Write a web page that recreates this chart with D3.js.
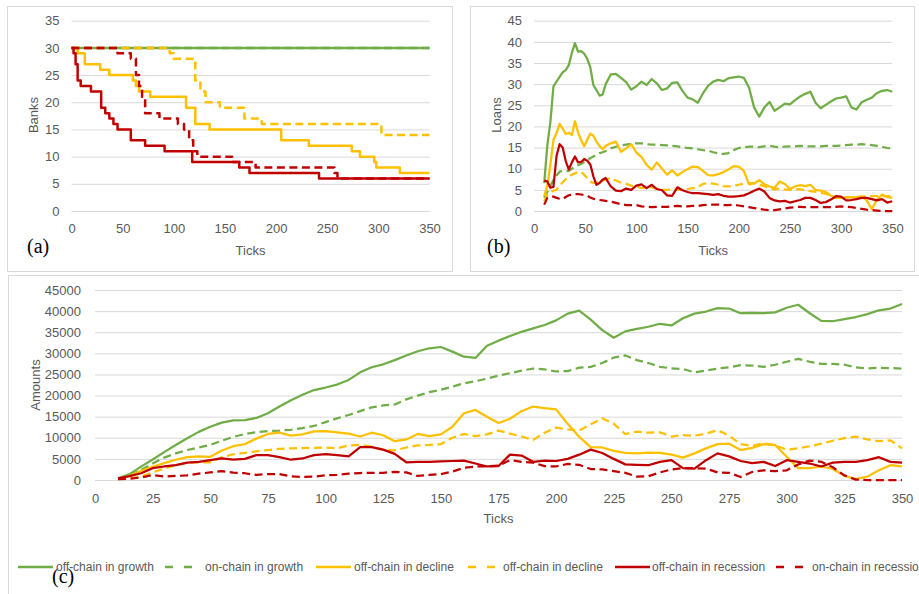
<!DOCTYPE html>
<html>
<head>
<meta charset="utf-8">
<script src="https://cdn.jsdelivr.net/npm/d3@7"></script>
<style>
  body { margin: 0; background: #fff; }
  svg text { font-family: "Liberation Sans", Arial, sans-serif; fill: #595959; }
</style>
</head>
<body>
<div id="chart"></div>
<script>

// ---- (a) Banks: step change points (tick, value)
var banksOffGrowthT = [0, 350]
var banksOffGrowthV = [30, 30]
var banksOnGrowthT = [0, 350]
var banksOnGrowthV = [30, 30]
var banksOffDeclineT = [0, 6, 13, 28, 37, 60, 63, 66, 77, 112, 121, 135, 205, 232, 274, 282, 296, 298, 321, 350]
var banksOffDeclineV = [30, 29, 27, 26, 25, 24, 23, 22, 21, 19, 16, 15, 13, 12, 11, 10, 9, 8, 7, 7]
var banksOnDeclineT = [0, 96, 100, 121, 126, 131, 145, 169, 186, 303, 350]
var banksOnDeclineV = [30, 29, 28, 24, 22, 20, 19, 17, 16, 14, 14]
var banksOffRecessionT = [0, 2, 4, 6, 9, 19, 29, 33, 37, 41, 45, 58, 72, 91, 118, 164, 174, 242, 350]
var banksOffRecessionV = [30, 29, 27, 24, 23, 22, 19, 18, 17, 16, 15, 13, 12, 11, 9, 8, 7, 6, 6]
var banksOnRecessionT = [0, 45, 58, 63, 66, 69, 72, 86, 104, 110, 115, 119, 123, 157, 180, 257, 260, 350]
var banksOnRecessionV = [30, 29, 28, 25, 23, 21, 18, 17, 16, 15, 13, 11, 10, 9, 8, 7, 6, 6]

// ---- (b) Loans
var loanTicks = [10, 13, 16, 19, 22, 25, 28, 31, 34, 37, 40, 43, 46, 49, 52, 55, 58, 61, 64, 67, 70,
  75, 80, 85, 90, 95, 100, 105, 110, 115, 120, 125, 130, 135, 140, 145, 150, 155, 160, 165, 170,
  175, 180, 185, 190, 195, 200, 205, 210, 215, 220, 225, 230, 235, 240, 245, 250, 255, 260, 265,
  270, 275, 280, 285, 290, 295, 300, 305, 310, 315, 320, 325, 330, 335, 340, 345, 350]
var loanOffGrowth = [6.6, 15.5, 21, 29.5, 30.6, 31.7, 32.8, 33.3, 34.5, 37.4, 39.7, 37.7, 37.8, 37.2, 36, 34, 29.8, 28.6, 27.3, 27.5, 30,
  32.3, 32.4, 31.5, 30.5, 28.7, 29.5, 30.6, 29.8, 31.2, 30.2, 28.6, 29, 30.3, 30.4, 28.4, 26.8, 26.4, 25.6, 27.8, 29.6,
  30.6, 31, 30.7, 31.4, 31.6, 31.8, 31.5, 29.2, 24.5, 22.3, 24.5, 25.8, 23.7, 24.5, 25.4, 25.2, 26.2, 27.1, 27.7,
  28.2, 25.6, 24.3, 25.1, 25.9, 26.6, 26.8, 27.1, 24.5, 24, 25.7, 26.3, 26.8, 27.9, 28.4, 28.6, 28.2]
var loanOnGrowth = [3.1, 4.5, 6, 7.3, 8.4, 9.3, 9.5, 9.4, 9.5, 10, 10.5, 10.8, 11.1, 11.6, 12, 12.5, 12.9, 13.3, 13.7, 13.9, 14.2,
  14.8, 15.2, 15.5, 15.7, 15.9, 16, 16, 15.8, 15.7, 15.7, 15.6, 15.5, 15.4, 15.3, 15.1, 14.9, 14.8, 14.6, 14.4, 14.3,
  13.9, 13.6, 13.5, 13.7, 14.4, 14.9, 15.1, 15.2, 15.2, 15.1, 15.3, 15.4, 15.2, 15.1, 15.2, 15.3, 15.3, 15.4, 15.3,
  15.3, 15.3, 15.3, 15.4, 15.4, 15.4, 15.5, 15.6, 15.7, 15.7, 15.8, 15.7, 15.6, 15.4, 15.2, 14.9, 14.7]
var loanOffDecline = [3.5, 6, 11, 16.8, 18.4, 20.6, 19.5, 18.2, 18.5, 18, 21.2, 18.6, 16.8, 15.3, 16.8, 18.3, 17.8, 16.4, 15.4, 14.6, 15.4,
  16, 16.4, 14, 14.8, 15.8, 13.8, 12.8, 10.9, 9.8, 11.5, 10, 8.6, 9.6, 8.4, 9.2, 9.9, 10.5, 10.4, 9.5, 8.5,
  8.4, 8.7, 9.2, 9.8, 10.6, 10.5, 9.5, 6.3, 6.5, 7.3, 6.3, 5.8, 5.5, 7, 6.4, 5.2, 5.8, 6.1, 5.9,
  6.2, 5, 4.8, 4.5, 3.6, 3.1, 3.1, 3.2, 3.3, 3.2, 3.4, 2.5, 0.4, 2.7, 3.9, 3.3, 3.1]
var loanOnDecline = [2.3, 3.9, 4.4, 4.8, 5, 6, 6.8, 7.5, 8.2, 8.6, 8.9, 9.2, 9.2, 8.6, 7.8, 7, 6.6, 6.8, 7, 7.2, 7.4,
  7.8, 7.2, 6.7, 6.4, 6, 5.8, 5.4, 5.6, 5.6, 5.3, 5, 5, 5.1, 5, 5, 5.2, 5.4, 5.6, 6.4, 6.6,
  6.5, 6.2, 5.9, 5.8, 5.9, 6.2, 6.5, 6.6, 6.6, 6.2, 5.9, 5.3, 5.1, 5.3, 5.1, 5, 5.2, 5.1, 5,
  4.7, 4.5, 4.3, 4.1, 3.6, 3.3, 3.2, 3.2, 3.3, 3.3, 3.4, 3.5, 3.5, 3.5, 3.5, 3.5, 3.5]
var loanOffRecession = [7.2, 7, 5.5, 5.7, 13, 15.8, 15, 11.8, 9.8, 11.5, 12.9, 11.5, 11.6, 12.3, 11.9, 11, 8.2, 6.2, 6.6, 7.4, 7.8,
  5.8, 4.8, 4.7, 5.3, 5, 6, 6.3, 5.4, 6.2, 5.2, 4.9, 3.7, 3.6, 5.6, 4.9, 4.5, 4.2, 4.2, 4.1, 4,
  3.8, 4, 3.6, 3.4, 3.4, 3.5, 3.7, 4.2, 4.8, 5.3, 4.6, 3.1, 2.5, 2.3, 2.4, 2, 2.3, 2.6, 3.1,
  3.1, 2.6, 1.9, 2.1, 2.7, 3.5, 3.4, 2.5, 2.6, 2.8, 3.1, 3.1, 2.8, 2.5, 2.8, 2, 2.3]
var loanOnRecession = [1.5, 3.1, 3.4, 3.4, 3.1, 2.9, 2.8, 3.3, 3.7, 3.9, 4, 4, 3.9, 3.8, 3.6, 3.2, 2.9, 2.7, 2.6, 2.5, 2.4,
  2.2, 1.9, 1.6, 1.4, 1.4, 1.4, 1.1, 1, 0.9, 1, 1, 1, 1.1, 1.2, 1.1, 1.1, 1.2, 1.2, 1.4, 1.5,
  1.5, 1.5, 1.4, 1.4, 1.5, 1.3, 1.1, 0.9, 0.7, 0.5, 0.3, 0.2, 0.2, 0.4, 0.6, 0.8, 0.9, 1, 0.9,
  0.9, 0.9, 0.9, 0.9, 0.9, 1, 1.1, 1, 0.9, 0.7, 0.5, 0.3, 0.2, 0.1, 0, 0, 0]

// ---- (c) Amounts
var amtTicks = [10, 15, 20, 25, 30, 35, 40, 45, 50, 55, 60, 65, 70, 75, 80, 85, 90, 95, 100, 105, 110, 115, 120,
  125, 130, 135, 140, 145, 150, 155, 160, 165, 170, 175, 180, 185, 190, 195, 200, 205, 210, 215, 220, 225,
  230, 235, 240, 245, 250, 255, 260, 265, 270, 275, 280, 285, 290, 295, 300, 305, 310, 315, 320, 325, 330,
  335, 340, 345, 350]
var amtOffGrowth = [400, 1400, 3160, 4850, 6600, 8300, 9900, 11400, 12600, 13600, 14100, 14200, 14700, 15800, 17400, 18900, 20200, 21300, 21900, 22600, 23700, 25500, 26700,
  27400, 28400, 29500, 30500, 31200, 31500, 30400, 29200, 28900, 31800, 33000, 34100, 35100, 35900, 36700, 37800, 39400, 40100, 38000, 35500, 33700,
  35200, 35800, 36300, 37000, 36600, 38300, 39400, 39900, 40700, 40600, 39500, 39600, 39500, 39700, 40800, 41500, 39500, 37700, 37600, 38100, 38600,
  39300, 40200, 40600, 41700]
var amtOnGrowth = [400, 1000, 2400, 3900, 5300, 6300, 7100, 7700, 8300, 9300, 10200, 10900, 11300, 11600, 11700, 11900, 12300, 12800, 13700, 14600, 15400, 16300, 17200,
  17650, 17900, 19100, 20000, 20800, 21400, 22100, 22900, 23400, 24000, 24700, 25300, 25900, 26400, 26200, 25700, 25800, 26600, 26800, 27700, 29000,
  29500, 28400, 27700, 26800, 26450, 26300, 25500, 25900, 26400, 26700, 27200, 27100, 26800, 27300, 28000, 28700, 28000, 27500, 27500, 27300, 26700,
  26450, 26600, 26500, 26400]
var amtOffDecline = [200, 1000, 2200, 3100, 4000, 4800, 5400, 5600, 5500, 7000, 8000, 8500, 9800, 10900, 11200, 10500, 10800, 11500, 11600, 11300, 11000, 10300, 11200,
  10600, 9200, 9600, 10900, 10400, 10800, 12600, 15800, 16600, 15000, 13500, 14500, 16300, 17400, 17000, 16700, 13300, 10200, 7800, 7700, 6900,
  6400, 6300, 6500, 6400, 6000, 5300, 6300, 7500, 8500, 8600, 7100, 7600, 8500, 8300, 5500, 2800, 2800, 3200, 2600, 1000, 200,
  800, 2300, 3500, 3200]
var amtOnDecline = [200, 400, 800, 1800, 2700, 3500, 4100, 4200, 4200, 5400, 6100, 6400, 6800, 7100, 7350, 7500, 7550, 7600, 7700, 7500, 8200, 8300, 7900,
  7100, 7000, 7700, 8200, 8300, 8500, 10000, 10900, 10400, 10800, 11700, 11000, 10300, 9500, 11200, 12400, 12000, 11700, 13200, 14600, 13300,
  10900, 11450, 11200, 11300, 10300, 10600, 10500, 11000, 11800, 10500, 8500, 8100, 8700, 8200, 7200, 7500, 8000, 8600, 9300, 9900, 10260,
  9600, 9200, 9400, 7500]
var amtOffRecession = [400, 900, 1600, 2800, 3200, 3500, 4100, 4300, 4700, 5100, 4800, 5000, 5900, 5900, 5400, 4800, 5100, 5900, 6100, 5900, 5600, 7800, 7800,
  7200, 6200, 4200, 4300, 4300, 4400, 4500, 4600, 3900, 3200, 3300, 6000, 5800, 4300, 4600, 4500, 5000, 6000, 7200, 6400, 5000,
  3700, 3600, 3500, 4300, 4700, 2800, 2700, 4700, 6300, 5600, 4500, 4000, 4300, 3300, 4700, 4300, 3900, 3200, 4100, 4300, 4300,
  4700, 5400, 4300, 4100]
var amtOnRecession = [200, 300, 600, 1200, 800, 950, 1100, 1500, 1800, 2100, 1750, 1600, 1200, 1400, 1400, 900, 700, 800, 1100, 1200, 1500, 1650, 1700,
  1700, 1950, 1800, 950, 1200, 1400, 2000, 2900, 3200, 3250, 3400, 4700, 4300, 4100, 3300, 3200, 3800, 3600, 2600, 2500, 2100,
  1700, 800, 900, 1800, 2500, 2800, 2800, 2700, 1800, 1700, 700, 1900, 2300, 2100, 2300, 3700, 4600, 4300, 3000, 1100, 100,
  0, 0, 0, 0]

var seriesNames = ['off-chain in growth', 'on-chain in growth', 'off-chain in decline',
  'off-chain in decline', 'off-chain in recession', 'on-chain in recession']

var colors = ['#70ad47', '#70ad47', '#ffc000', '#ffc000', '#c00000', '#c00000']
var dashed = [false, true, false, true, false, true]
var dashPattern = '8,4.5'

var svg = d3.select('#chart').append('svg')
  .attr('width', 919)
  .attr('height', 594)

// panel frames
svg.append('rect').attr('x', 7.5).attr('y', 6.5).attr('width', 445).attr('height', 265)
  .attr('fill', 'none').attr('stroke', '#d9d9d9')
svg.append('rect').attr('x', 470.5).attr('y', 6.5).attr('width', 444).attr('height', 265)
  .attr('fill', 'none').attr('stroke', '#d9d9d9')
svg.append('rect').attr('x', 8.5).attr('y', 275.5).attr('width', 930).attr('height', 340)
  .attr('fill', 'none').attr('stroke', '#d9d9d9')

function stepPoints(t, v) {
  return t.map(function(d, i) { return [d, v[i]] })
}
function linePoints(t, v) {
  return t.map(function(d, i) { return [d, v[i]] })
}

function panel(opt) {
  var g = svg.append('g')
  var x = d3.scaleLinear().domain([0, 350]).range(opt.xr)
  var y = d3.scaleLinear().domain([0, opt.ymax]).range(opt.yr)

  // horizontal grid + y labels
  var yAxis = d3.axisLeft(y)
    .tickValues(opt.yticks)
    .tickSize(-(opt.xr[1] - opt.xr[0]))
    .tickPadding(opt.ypad)
    .tickFormat(d3.format('d'))
  var ya = g.append('g')
    .attr('transform', 'translate(' + opt.xr[0] + ',0)')
    .call(yAxis)
  ya.select('.domain').remove()
  ya.selectAll('line').attr('stroke', '#d9d9d9').attr('stroke-width', 1)
  ya.selectAll('text').attr('font-size', 13).style('font-family', '"Liberation Sans", Arial, sans-serif').attr('fill', '#595959')

  var xAxis = d3.axisBottom(x)
    .tickValues(opt.xticks)
    .tickSize(0)
    .tickPadding(opt.xpad)
  var xa = g.append('g')
    .attr('transform', 'translate(0,' + opt.yr[0] + ')')
    .call(xAxis)
  xa.select('.domain').remove()
  xa.selectAll('text').attr('font-size', 13).style('font-family', '"Liberation Sans", Arial, sans-serif').attr('fill', '#595959')

  // axis titles
  g.append('text')
    .attr('x', (opt.xr[0] + opt.xr[1]) / 2)
    .attr('y', opt.xtitleY)
    .attr('text-anchor', 'middle')
    .attr('font-size', 13)
    .text('Ticks')
  g.append('text')
    .attr('transform', 'translate(' + opt.ytitleX + ',' + opt.ytitleY + ') rotate(-90)')
    .attr('text-anchor', 'middle')
    .attr('font-size', 13)
    .text(opt.ytitle)

  var line = d3.line()
    .x(function(d) { return x(d[0]) })
    .y(function(d) { return y(d[1]) })
    .curve(opt.step ? d3.curveStepAfter : d3.curveLinear)

  g.selectAll('.series')
    .data(opt.series)
    .enter().append('path')
    .attr('class', 'series')
    .attr('d', line)
    .attr('fill', 'none')
    .attr('stroke', function(d, i) { return colors[i] })
    .attr('stroke-width', opt.sw)
    .attr('stroke-linejoin', 'round')
    .attr('stroke-dasharray', function(d, i) { return dashed[i] ? dashPattern : null })

  if (opt.tag) {
    svg.append('text')
      .attr('x', opt.tag[1])
      .attr('y', opt.tag[2])
      .style('font-family', '"Liberation Serif", "Times New Roman", serif')
      .style('fill', '#000')
      .attr('font-size', 20)
      .text(opt.tag[0])
  }
}

panel({
  xr: [71.5, 429.5], yr: [211, 20.7], ymax: 35,
  yticks: d3.range(0, 36, 5), xticks: d3.range(0, 351, 50),
  ypad: 12, xpad: 13, xtitleY: 255, ytitleX: 38, ytitleY: 115, ytitle: 'Banks',
  step: true, sw: 2.5,
  series: [
    stepPoints(banksOffGrowthT, banksOffGrowthV),
    stepPoints(banksOnGrowthT, banksOnGrowthV),
    stepPoints(banksOffDeclineT, banksOffDeclineV),
    stepPoints(banksOnDeclineT, banksOnDeclineV),
    stepPoints(banksOffRecessionT, banksOffRecessionV),
    stepPoints(banksOnRecessionT, banksOnRecessionV)
  ],
  tag: ['(a)', 27, 253]
})

panel({
  xr: [534, 892.3], yr: [211, 20.7], ymax: 45,
  yticks: d3.range(0, 46, 5), xticks: d3.range(0, 351, 50),
  ypad: 12, xpad: 13, xtitleY: 255, ytitleX: 501, ytitleY: 115, ytitle: 'Loans',
  step: false, sw: 2.25,
  series: [
    linePoints(loanTicks, loanOffGrowth),
    linePoints(loanTicks, loanOnGrowth),
    linePoints(loanTicks, loanOffDecline),
    linePoints(loanTicks, loanOnDecline),
    linePoints(loanTicks, loanOffRecession),
    linePoints(loanTicks, loanOnRecession)
  ],
  tag: ['(b)', 487, 253]
})

panel({
  xr: [95, 902], yr: [480, 290], ymax: 45000,
  yticks: d3.range(0, 45001, 5000), xticks: d3.range(0, 351, 25),
  ypad: 14, xpad: 14, xtitleY: 523, ytitleX: 40, ytitleY: 385, ytitle: 'Amounts',
  step: false, sw: 2.25,
  series: [
    linePoints(amtTicks, amtOffGrowth),
    linePoints(amtTicks, amtOnGrowth),
    linePoints(amtTicks, amtOffDecline),
    linePoints(amtTicks, amtOnDecline),
    linePoints(amtTicks, amtOffRecession),
    linePoints(amtTicks, amtOnRecession)
  ],
  tag: ['(c)', 52, 583]
})

// legend
var legX = [18, 165, 316, 468, 615, 776]
var legText = [56, 205, 354, 503, 652, 812]
var leg = svg.append('g')
seriesNames.forEach(function(name, i) {
  leg.append('line')
    .attr('x1', legX[i]).attr('x2', legX[i] + (dashed[i] ? 27 : 35))
    .attr('y1', 567).attr('y2', 567)
    .attr('stroke', colors[i])
    .attr('stroke-width', 2.5)
    .attr('stroke-dasharray', dashed[i] ? '8,11' : null)
  leg.append('text')
    .attr('x', legText[i]).attr('y', 571)
    .attr('font-size', 12)
    .text(name)
})

</script>
</body>
</html>
